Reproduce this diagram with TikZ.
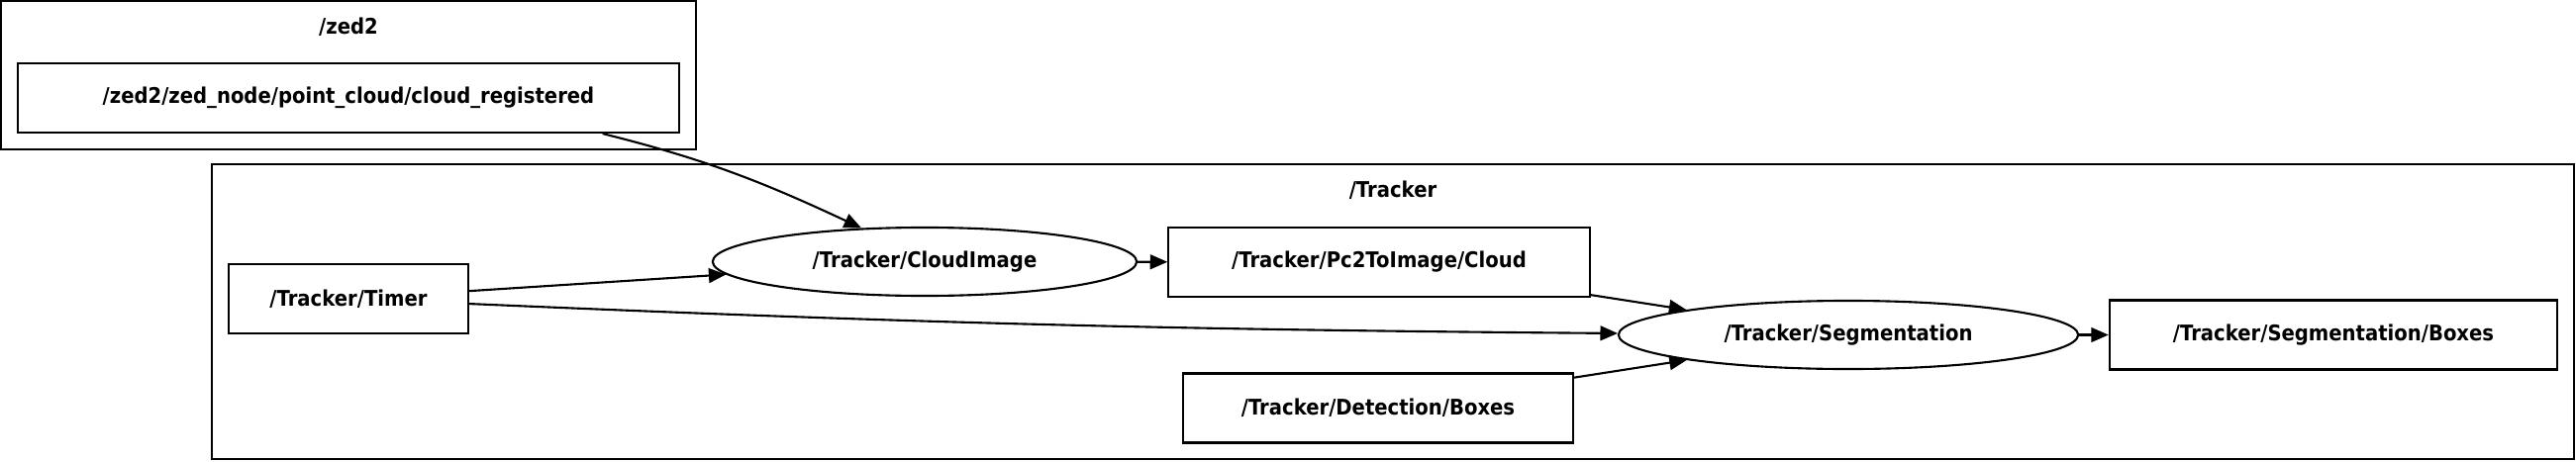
\documentclass[tikz,border=0pt]{standalone}
\usepackage{fontspec}
\setmainfont{DejaVu Sans}[FakeStretch=0.9]
\usetikzlibrary{shapes.geometric, arrows.meta}

\begin{document}
\begin{tikzpicture}[x=0.01cm, y=0.01cm,
    font=\fontsize{6.2}{7}\selectfont\bfseries,
    cluster/.style={draw, line width=0.6pt},
    topic/.style={draw, rectangle, line width=0.6pt, inner sep=0pt, minimum height=0.7cm},
    rosnode/.style={draw, ellipse, line width=0.6pt, inner sep=0pt, minimum height=0.69cm},
    edge/.style={-{Triangle[length=5pt, width=4.2pt]}, line width=0.6pt}]
    \useasboundingbox (0,0) rectangle (2602,466);

    % Clusters
    \draw[cluster] (1,315) rectangle (703,465);
    \node (zedlabel) at (352,439) {/zed2};
    \draw[cluster] (214,2) rectangle (2600,300);
    \node (trackerlabel) at (1407,274) {/Tracker};

    % Topics
    \node[topic, minimum width=6.68cm] (cloudreg) at (352,367) {/zed2/zed\_node/point\_cloud/cloud\_registered};
    \node[topic, minimum width=2.42cm] (timer) at (352,164) {/Tracker/Timer};
    \node[topic, minimum width=4.25cm] (pc2) at (1393,201) {/Tracker/Pc2ToImage/Cloud};
    \node[topic, minimum width=3.93cm] (detect) at (1392,53.5) {/Tracker/Detection/Boxes};
    \node[topic, minimum width=4.52cm] (segboxes) at (2357,127.5) {/Tracker/Segmentation/Boxes};

    % Nodes
    \node[rosnode, minimum width=4.28cm] (cloudimg) at (934,201.5) {/Tracker/CloudImage};
    \node[rosnode, minimum width=4.64cm] (seg) at (1867,127.5) {/Tracker/Segmentation};

    % Edges
    \draw[edge] (cloudreg.-8) to[out=-14, in=155] (cloudimg.152);
    \draw[edge] (timer) -- (cloudimg);
    \draw[edge] (timer) to[bend right=1] (seg);
    \draw[edge] (cloudimg) -- (pc2);
    \draw[edge] (pc2) -- (seg);
    \draw[edge] (detect) -- (seg);
    \draw[edge] (seg) -- (segboxes);
\end{tikzpicture}
\end{document}
